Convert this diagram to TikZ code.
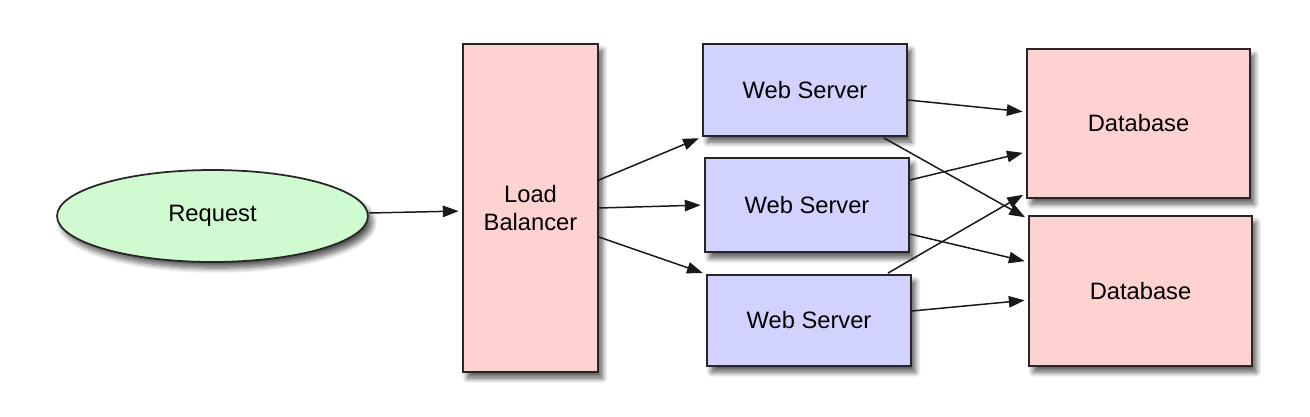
\documentclass[tikz,border=0pt]{standalone}
\usepackage{fontspec}
\setmainfont{Liberation Sans}
\usetikzlibrary{shapes.geometric,arrows.meta,calc,shadows.blur}
\definecolor{reqgreen}{RGB}{208,250,208}
\definecolor{boxpink}{RGB}{255,210,210}
\definecolor{boxblue}{RGB}{210,210,255}
\tikzset{
  shad/.style={blur shadow={shadow xshift=2.5pt,shadow yshift=-3.5pt,shadow opacity=65,shadow blur steps=8,shadow blur radius=3pt}},
  basebox/.style={draw=black!85,line width=1pt,inner sep=0pt,font=\fontsize{13.5}{16}\selectfont,shad},
  reqnode/.style={basebox,ellipse,fill=reqgreen,minimum width=6.22cm,minimum height=1.84cm},
  lbnode/.style={basebox,rectangle,fill=boxpink,minimum width=2.7cm,minimum height=6.56cm,align=center},
  wsnode/.style={basebox,rectangle,fill=boxblue,minimum width=4.08cm,minimum height=1.84cm},
  dbnode/.style={basebox,rectangle,fill=boxpink,minimum width=4.46cm,minimum height=2.98cm},
  conn/.style={draw=black!90,line width=0.85pt,-{Triangle[length=9pt,width=6.5pt]},shorten >=2pt}
}
\begin{document}
\begin{tikzpicture}[x=0.02cm,y=-0.02cm]
\useasboundingbox (0,0) rectangle (1310,416);
\node[reqnode] (req) at (212.5,216) {Request};
\node[lbnode] (lb) at (530.5,208) {Load\\Balancer};
\node[wsnode] (ws1) at (805,90) {Web Server};
\node[wsnode,minimum height=1.88cm] (ws2) at (807,205) {Web Server};
\node[wsnode,minimum height=1.82cm] (ws3) at (809,320.5) {Web Server};
\node[dbnode] (db1) at (1138.5,123.5) {Database};
\node[dbnode,minimum height=3cm] (db2) at (1140.5,291) {Database};

\draw[conn] ($(req.east)+(0,-3)$) -- ($(lb.west)+(0,3)$);
\draw[conn] ($(lb.east)+(0,-28)$) -- (ws1.south west);
\draw[conn] (lb.east) -- (ws2.west);
\draw[conn] ($(lb.east)+(0,29)$) -- (ws3.north west);

\draw[conn] ($(ws1.east)+(0,10)$) -- ($(db1.west)+(0,-11.5)$);
\draw[conn] ($(ws1.south east)+(-24,1)$) -- ($(db2.west)+(0,-72)$);
\draw[conn] ($(ws2.east)+(0,-25)$) -- ($(db1.west)+(0,28.5)$);
\draw[conn] ($(ws2.east)+(0,29)$) -- ($(db2.west)+(0,-29)$);
\draw[conn] ($(ws3.north east)+(-24,-1)$) -- ($(db1.west)+(0,69.5)$);
\draw[conn] ($(ws3.east)+(0,-9.5)$) -- ($(db2.west)+(0,9)$);
\end{tikzpicture}
\end{document}
